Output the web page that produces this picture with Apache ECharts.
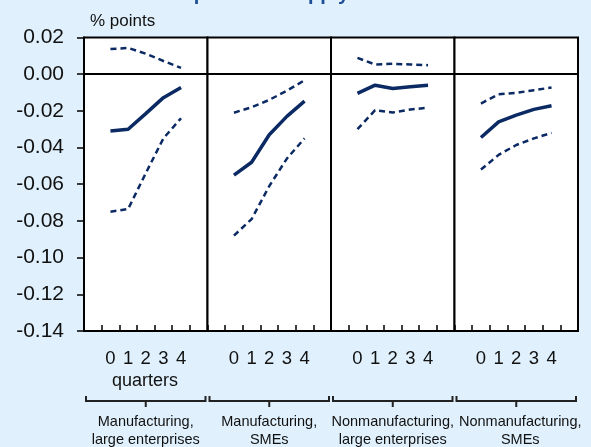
<!DOCTYPE html>
<html>
<head>
<meta charset="utf-8">
<script src="https://cdn.jsdelivr.net/npm/echarts@6/dist/echarts.min.js"></script>
<style>
html, body { margin: 0; padding: 0; background: #e0f1fd; }
#chart { width: 591px; height: 447px; }
</style>
</head>
<body>
<div id="chart"></div>
<script>
// quarters after the shock, one empty slot on each side of a panel
var quarters = ['', '0', '1', '2', '3', '4', ''];
var panelNames = [
	'Manufacturing,\nlarge enterprises',
	'Manufacturing,\nSMEs',
	'Nonmanufacturing,\nlarge enterprises',
	'Nonmanufacturing,\nSMEs'
];
var yTicks = [0.02, 0.00, -0.02, -0.04, -0.06, -0.08, -0.10, -0.12, -0.14];

// central estimate and upper / lower bands, per panel
var centre = [
	[-0.031, -0.030, -0.0215, -0.0128, -0.0072],
	[-0.055, -0.048, -0.033, -0.023, -0.0147],
	[-0.0105, -0.006, -0.0078, -0.0069, -0.006],
	[-0.0345, -0.026, -0.0223, -0.0192, -0.0172]
];
var upper = [
	[0.0137, 0.0143, 0.0112, 0.0072, 0.0034],
	[-0.021, -0.018, -0.014, -0.009, -0.0033],
	[0.0089, 0.0053, 0.0057, 0.0053, 0.0049],
	[-0.016, -0.0109, -0.0102, -0.0087, -0.0073]
];
var lower = [
	[-0.075, -0.0735, -0.054, -0.035, -0.024],
	[-0.088, -0.079, -0.061, -0.046, -0.035],
	[-0.030, -0.0196, -0.0209, -0.0192, -0.0183],
	[-0.052, -0.044, -0.0386, -0.035, -0.032]
];

var lineColor = '#0b2a63';
var font = 'Liberation Sans, Arial, sans-serif';
var plotLeft = 84, panelW = 123.5, plotTop = 37.5, plotH = 293.5;

var grids = [], xAxes = [], yAxes = [], series = [], graphics = [];

for (var i = 0; i < 4; i++) {
	var left = plotLeft + panelW * i;
	grids.push({
		left: left, top: plotTop, width: panelW, height: plotH,
		show: true, backgroundColor: '#fff', borderColor: '#000', borderWidth: 2
	});
	xAxes.push({
		type: 'category', gridIndex: i, data: quarters, boundaryGap: true,
		axisLine: { show: true, onZero: false, lineStyle: { color: '#000', width: 2 } },
		axisTick: { show: true, inside: true, length: 6, interval: 0, lineStyle: { color: '#000', width: 1.5 } },
		axisLabel: { interval: 0, fontSize: 18.5, color: '#111', fontFamily: font, margin: 18 },
		splitLine: { show: false }
	});
	yAxes.push({
		type: 'value', gridIndex: i, min: -0.14, max: 0.02, interval: 0.02,
		axisLine: { show: i === 0, lineStyle: { color: '#000', width: 2 } },
		axisTick: { show: i === 0, length: 7, lineStyle: { color: '#000', width: 1.5 } },
		axisLabel: {
			show: i === 0, fontSize: 21, color: '#111', fontFamily: font, margin: 20,
			formatter: function (v) { return Math.abs(v) < 1e-9 ? '0.00' : v.toFixed(2); }
		},
		splitLine: { show: false }
	});
	var sets = [
		{ data: upper[i], width: 2.5, type: [6, 4] },
		{ data: lower[i], width: 2.5, type: [6, 4] },
		{ data: centre[i], width: 3.5, type: 'solid' }
	];
	sets.forEach(function (s, k) {
		var ser = {
			type: 'line', xAxisIndex: i, yAxisIndex: i,
			data: [null].concat(s.data),
			symbol: 'none', silent: true,
			lineStyle: { color: lineColor, width: s.width, type: s.type }
		};
		if (k === 2) {
			ser.markLine = {
				silent: true, symbol: 'none', label: { show: false },
				lineStyle: { color: '#000', width: 2, type: 'solid' },
				data: [{ yAxis: 0 }]
			};
		}
		series.push(ser);
	});

	// bracket under the panel
	var bx0 = left + 2, bx1 = left + panelW - 2, bc = left + panelW / 2;
	graphics.push({
		type: 'polyline', silent: true,
		shape: { points: [[bx0, 396], [bx0, 401], [bx1, 401], [bx1, 396]] },
		style: { stroke: '#222', lineWidth: 2, fill: null }
	});
	graphics.push({
		type: 'line', silent: true,
		shape: { x1: bc, y1: 401, x2: bc, y2: 407 },
		style: { stroke: '#222', lineWidth: 2 }
	});
	graphics.push({
		type: 'text', silent: true, x: bc + (i === 3 ? 4 : 0), y: 413,
		style: {
			text: panelNames[i], fill: '#111', font: '14.5px ' + font,
			textAlign: 'center', textVerticalAlign: 'top', lineHeight: 18
		}
	});
}

graphics.push({
	type: 'text', silent: true, x: 145, y: 381,
	style: { text: 'quarters', fill: '#111', font: '18px ' + font, textAlign: 'center', textVerticalAlign: 'middle' }
});
graphics.push({
	type: 'text', silent: true, x: 90, y: 21,
	style: { text: '% points', fill: '#111', font: '17px ' + font, textAlign: 'left', textVerticalAlign: 'middle' }
});
graphics.push({
	type: 'text', silent: true, x: 292, y: 4,
	style: { text: 'Response to Supply Factors', fill: '#1f4e99', font: 'bold 20px ' + font, textAlign: 'center', textVerticalAlign: 'bottom' }
});

var chart = echarts.init(document.getElementById('chart'));
chart.setOption({
	backgroundColor: '#e0f1fd',
	animation: false,
	grid: grids,
	xAxis: xAxes,
	yAxis: yAxes,
	series: series,
	graphic: graphics
});
</script>
</body>
</html>
